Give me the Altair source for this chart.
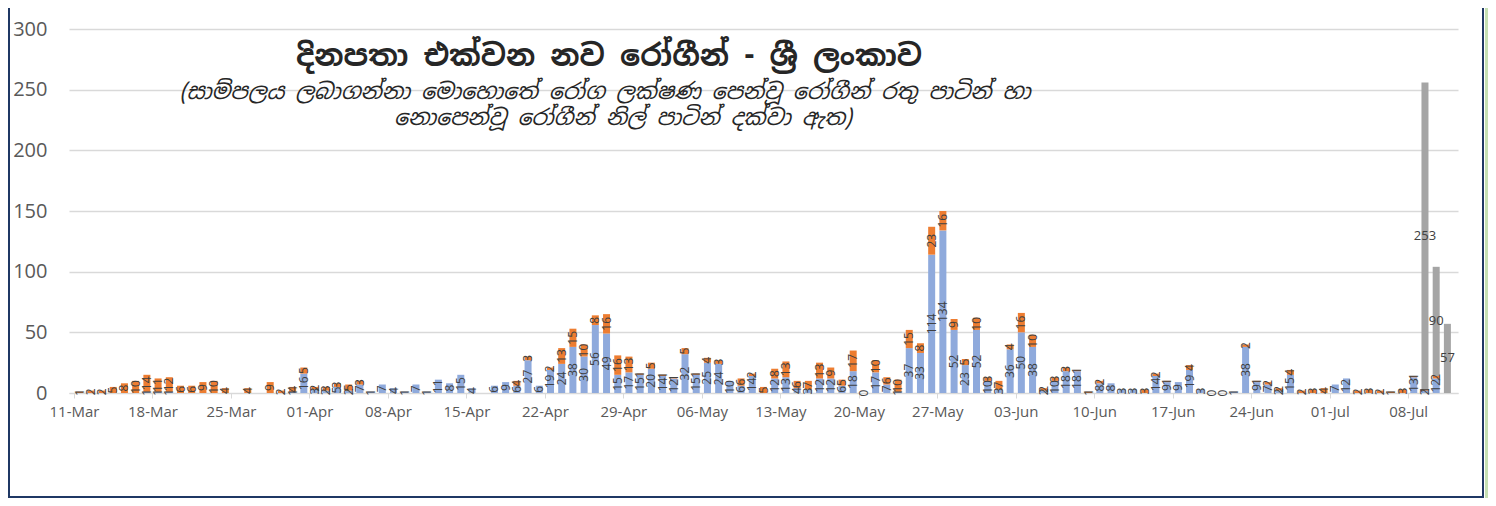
import altair as alt
import pandas as pd

# ---- data ----
start_date = "2020-03-11"
blue = [0, 0, 0, 0, 0, 0, 1, 1, 1, 0, 0, 0, 0, 0, 0, 0, 0, 0, 0, 1,
        16, 3, 2, 5, 2, 7, 1, 7, 4, 1, 7, 1, 11, 8, 15, 4, 0, 6, 9, 6,
        27, 6, 19, 24, 38, 30, 56, 49, 15, 17, 15, 20, 14, 12, 32, 15, 25, 24, 10, 6,
        14, 0, 12, 13, 4, 3, 12, 12, 6, 18, 0, 17, 7, 1, 37, 33, 114, 134, 52, 23,
        52, 10, 3, 36, 50, 38, 2, 10, 18, 18, 0, 8, 8, 3, 3, 0, 14, 9, 9, 19,
        3, 0, 0, 1, 38, 9, 7, 2, 15, 0, 0, 0, 7, 12, 0, 0, 0, 0, 0, 13,
        2, 12, 0]
orange = [1, 2, 2, 5, 8, 10, 14, 11, 12, 6, 6, 9, 10, 4, 0, 4, 0, 9, 2, 4,
          5, 2, 3, 3, 5, 3, 0, 0, 0, 0, 0, 0, 0, 0, 0, 0, 0, 0, 0, 4,
          3, 0, 2, 13, 15, 10, 8, 16, 16, 13, 1, 5, 1, 1, 5, 1, 4, 3, 0, 6,
          2, 5, 8, 13, 6, 7, 13, 9, 5, 17, 0, 10, 6, 10, 15, 8, 23, 16, 9, 5,
          10, 3, 7, 4, 16, 10, 2, 3, 3, 1, 1, 2, 0, 0, 0, 3, 2, 1, 0, 4,
          0, 0, 0, 0, 2, 1, 2, 2, 4, 2, 3, 4, 0, 0, 2, 3, 2, 1, 3, 1,
          1, 2, 0]
gray = [0] * 120 + [253, 90, 57]
zero_label_days = [70, 101, 102]

tick_days = list(range(0, 120, 7))
y_ticks = [0, 50, 100, 150, 200, 250, 300]

title_text = "දිනපතා එක්වන නව රෝගීන් - ශ්\u200dරී ලංකාව"
subtitle_1 = "(සාම්පලය ලබාගන්නා මොහොතේ රෝග ලක්ෂණ පෙන්වූ රෝගීන් රතු පාටින් හා"
subtitle_2 = "නොපෙන්වූ රෝගීන් නිල් පාටින් දක්වා ඇත)"

series_names = ["blue", "orange", "gray"]
series_colors = ["#8FAADC", "#ED7D31", "#A5A5A5"]

# ---- build tables ----
n = len(blue)
rows = []
for i in range(n):
    base = 0
    for k, (name, vals) in enumerate(zip(series_names, [blue, orange, gray])):
        v = vals[i]
        if v > 0:
            rows.append({"pos": i + 0.5, "series": name, "order": k,
                         "y0": base, "y1": base + v, "mid": base + v / 2,
                         "label": str(v)})
            base += v
bars = pd.DataFrame(rows)
zeros = pd.DataFrame({"pos": [d + 0.5 for d in zero_label_days],
                      "mid": [0] * len(zero_label_days),
                      "label": ["0"] * len(zero_label_days)})
rot_labels = pd.concat([bars[bars.series != "gray"][["pos", "mid", "label"]], zeros])
gray_labels = bars[bars.series == "gray"][["pos", "mid", "label"]]

FONT = "Open Sans"
xscale = alt.Scale(domain=[0, n], nice=False, zero=False)
yscale = alt.Scale(domain=[0, 300], nice=False)
x_axis = alt.Axis(values=tick_days, title=None, grid=False,
                  labelExpr="timeFormat(datetime(2020, 2, 11 + datum.value), '%d-%b')",
                  domainColor="#D9D9D9", tickColor="#D9D9D9", tickSize=5,
                  labelColor="#595959", labelFontSize=15, labelFont=FONT,
                  labelPadding=6)
y_axis = alt.Axis(values=y_ticks, title=None, domain=False, ticks=False,
                  gridColor="#D9D9D9", gridWidth=1.3, labelColor="#595959",
                  labelFontSize=20, labelFont=FONT, labelPadding=22)

bar_layer = alt.Chart(bars).mark_bar(size=7).encode(
    x=alt.X("pos:Q", scale=xscale, axis=x_axis),
    y=alt.Y("y0:Q", scale=yscale, axis=y_axis),
    y2="y1:Q",
    color=alt.Color("series:N", scale=alt.Scale(domain=series_names, range=series_colors),
                    legend=None),
)

rot_layer = alt.Chart(rot_labels).mark_text(
    angle=270, fontSize=12, font=FONT, color="#404040", align="center", baseline="middle"
).encode(x=alt.X("pos:Q", scale=xscale, axis=x_axis),
         y=alt.Y("mid:Q", scale=yscale, axis=y_axis),
         text="label:N")

gray_layer = alt.Chart(gray_labels).mark_text(
    fontSize=13, font=FONT, color="#404040", align="center", baseline="middle"
).encode(x=alt.X("pos:Q", scale=xscale, axis=x_axis),
         y=alt.Y("mid:Q", scale=yscale, axis=y_axis),
         text="label:N")

one = pd.DataFrame({"k": [0]})
SIN_FONT = "Noto Sans Sinhala, Iskoola Pota, Noto Sans, sans-serif"
title_layer = alt.Chart(one).mark_text(
    fontSize=30, fontWeight="bold", font=SIN_FONT, color="#262626", align="center", baseline="middle"
).encode(x=alt.value(540), y=alt.value(28), text=alt.value(title_text))
sub1_layer = alt.Chart(one).mark_text(
    fontSize=22, fontStyle="italic", font=SIN_FONT, color="#262626", align="center", baseline="middle"
).encode(x=alt.value(536), y=alt.value(63), text=alt.value(subtitle_1))
sub2_layer = alt.Chart(one).mark_text(
    fontSize=22, fontStyle="italic", font=SIN_FONT, color="#262626", align="center", baseline="middle"
).encode(x=alt.value(554), y=alt.value(89), text=alt.value(subtitle_2))

NAVY = "#1F3864"
left_edge = alt.Chart(one).mark_rule(color=NAVY, strokeWidth=2).encode(
    x=alt.value(-60), y=alt.value(-21), y2=alt.value(469))
right_edge = alt.Chart(one).mark_rule(color=NAVY, strokeWidth=2).encode(
    x=alt.value(1414), y=alt.value(-21), y2=alt.value(469))
bottom_edge = alt.Chart(one).mark_rule(color=NAVY, strokeWidth=2).encode(
    x=alt.value(-61), x2=alt.value(1415), y=alt.value(468))
strip = alt.Chart(one).mark_rect(fill="#C6E0B4", stroke=None).encode(
    x=alt.value(1416), x2=alt.value(1420), y=alt.value(-21), y2=alt.value(469))

chart = alt.layer(
    bar_layer, rot_layer, gray_layer, strip, title_layer, sub1_layer, sub2_layer,
    left_edge, right_edge, bottom_edge
).properties(
    width=1389, height=364,
    autosize=alt.AutoSizeParams(type="none"),
    padding={"left": 61, "top": 21, "right": 30, "bottom": 105},
    background="white",
).configure_view(stroke=None)

chart.save("out.html", embed_options={"renderer": "svg", "actions": False})
